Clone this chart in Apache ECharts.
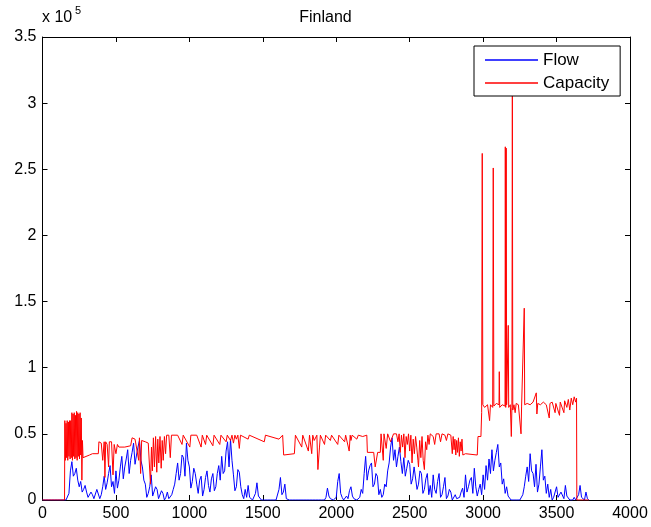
<!DOCTYPE html>
<html>
<head>
<meta charset="utf-8">
<script src="https://cdn.jsdelivr.net/npm/echarts@6/dist/echarts.min.js"></script>
<style>
  html, body { margin: 0; padding: 0; background: #fff; }
  #chart { width: 651px; height: 527px; }
</style>
</head>
<body>
<div id="chart"></div>
<script>
// values in units of 1e5
const xTicks = [0, 500, 1000, 1500, 2000, 2500, 3000, 3500, 4000]
const yTicks = [0, 0.5, 1, 1.5, 2, 2.5, 3, 3.5]

// flow, one value every 10 time steps starting at 0 (20 values per row)
const flowStep = 10
const flow = [
  0, 0, 0, 0, 0, 0, 0, 0, 0, 0, 0, 0, 0, 0, 0, 0, 0, 0, 0.05, 0.22,
  0.29, 0.18, 0.2, 0.24, 0.15, 0.1, 0.14, 0.06, 0.08, 0.11, 0.06, 0.02, 0.03, 0.06, 0.04, 0.01, 0.02, 0.08, 0.07, 0.01,
  0.04, 0.1, 0.18, 0.08, 0.13, 0.2, 0.26, 0.1, 0.14, 0.05, 0.22, 0.09, 0.15, 0.25, 0.33, 0.16, 0.25, 0.31, 0.38, 0.2,
  0.3, 0.36, 0.43, 0.27, 0.34, 0.4, 0.45, 0.3, 0.25, 0.15, 0.12, 0.02, 0.05, 0.1, 0.19, 0.03, 0.04, 0.1, 0.08, 0.01,
  0.02, 0.07, 0.05, 0, 0.02, 0.06, 0.01, 0.02, 0.04, 0.08, 0.12, 0.2, 0.28, 0.15, 0.2, 0.34, 0.32, 0.18, 0.43, 0.3,
  0.25, 0.09, 0.14, 0.24, 0.2, 0.12, 0.05, 0.15, 0.18, 0.03, 0.08, 0.17, 0.22, 0.11, 0.06, 0.16, 0.2, 0.07, 0.1, 0.2,
  0.26, 0.15, 0.33, 0.2, 0.22, 0.37, 0.44, 0.25, 0.46, 0.3, 0.19, 0.07, 0.1, 0.23, 0.21, 0.1, 0.04, 0.01, 0.08, 0.02,
  0.11, 0.02, 0.03, 0, 0.01, 0.05, 0.13, 0.03, 0.02, 0, 0.01, 0, 0, 0, 0, 0, 0, 0, 0, 0,
  0.01, 0.08, 0.17, 0.04, 0.06, 0.12, 0.01, 0, 0, 0, 0, 0, 0, 0, 0, 0, 0, 0, 0, 0,
  0, 0, 0, 0, 0, 0, 0, 0, 0, 0, 0, 0, 0, 0.02, 0.09, 0.03, 0.01, 0, 0, 0,
  0.02, 0.14, 0.2, 0.05, 0.02, 0, 0, 0.03, 0.01, 0.07, 0.1, 0.03, 0.01, 0, 0, 0.01, 0.02, 0.08, 0.05, 0.2,
  0.33, 0.15, 0.22, 0.26, 0.28, 0.1, 0.12, 0.2, 0.18, 0.04, 0.08, 0.02, 0.04, 0.12, 0.1, 0.22, 0.28, 0.4, 0.47, 0.3,
  0.38, 0.25, 0.33, 0.4, 0.29, 0.2, 0.32, 0.18, 0.24, 0.3, 0.27, 0.12, 0.16, 0.25, 0.24, 0.08, 0.12, 0.22, 0.2, 0.05,
  0.08, 0.16, 0.2, 0.04, 0.11, 0.02, 0.19, 0.08, 0.05, 0.14, 0.2, 0.02, 0.04, 0.1, 0.17, 0.01, 0.03, 0.08, 0.06, 0,
  0.01, 0.04, 0.01, 0, 0.02, 0.06, 0.09, 0.02, 0.19, 0.06, 0.1, 0.15, 0.17, 0.05, 0.24, 0.1, 0.03, 0.08, 0.12, 0.04,
  0.19, 0.08, 0.26, 0.15, 0.31, 0.2, 0.38, 0.22, 0.3, 0.36, 0.42, 0.25, 0.28, 0.12, 0.16, 0.05, 0.1, 0.03, 0.02, 0,
  0, 0, 0, 0, 0, 0, 0.01, 0.04, 0.1, 0.18, 0.25, 0.14, 0.35, 0.22, 0.2, 0.1, 0.27, 0.06, 0.12, 0.25,
  0.38, 0.15, 0.18, 0.05, 0.12, 0.02, 0.08, 0, 0.02, 0.01, 0.1, 0.02, 0.01, 0.06, 0.05, 0.01, 0.11, 0.03, 0.02, 0,
  0.01, 0, 0.02, 0, 0, 0.04, 0.11, 0.02, 0.03, 0, 0.06, 0.01, 0
]

// capacity as [time, value] points
const capacity = [
  [0, 0], [150, 0], [152, 0.6], [156, 0.3], [160, 0.58], [164, 0.32], [168, 0.6], [172, 0.3],
  [176, 0.59], [180, 0.33], [184, 0.6], [188, 0.31], [192, 0.6], [196, 0.32], [200, 0.66],
  [204, 0.3], [208, 0.65], [212, 0.33], [216, 0.66], [220, 0.31], [224, 0.64], [228, 0.32],
  [232, 0.67], [236, 0.3], [240, 0.66], [244, 0.33], [248, 0.65], [252, 0.31], [256, 0.66],
  [260, 0.34], [264, 0.62], [268, 0.15], [272, 0.45], [276, 0.32], [280, 0.33], [320, 0.34],
  [340, 0.35], [380, 0.35], [384, 0.44], [400, 0.43], [410, 0.3], [420, 0.44], [425, 0.17],
  [430, 0.44], [440, 0.42], [450, 0.25], [455, 0.44], [470, 0.44], [480, 0.19], [488, 0.42],
  [500, 0.35], [510, 0.42], [520, 0.4], [560, 0.4], [600, 0.41], [610, 0.47], [630, 0.46],
  [640, 0.47], [655, 0.3], [660, 0.47], [668, 0.2], [675, 0.45], [700, 0.44], [720, 0.43],
  [735, 0.12], [742, 0.4], [748, 0.22], [755, 0.47], [762, 0.25], [770, 0.48], [778, 0.21],
  [785, 0.46], [792, 0.28], [800, 0.48], [808, 0.24], [815, 0.45], [822, 0.3], [830, 0.48],
  [838, 0.35], [845, 0.49], [860, 0.49], [870, 0.32], [878, 0.49], [920, 0.49], [950, 0.42],
  [958, 0.49], [1003, 0.4], [1010, 0.49], [1050, 0.49], [1080, 0.4], [1088, 0.49], [1110, 0.42],
  [1118, 0.49], [1160, 0.41], [1168, 0.49], [1207, 0.42], [1215, 0.49], [1250, 0.44],
  [1258, 0.49], [1280, 0.45], [1290, 0.49], [1300, 0.43], [1310, 0.49], [1320, 0.46],
  [1330, 0.49], [1340, 0.39], [1348, 0.49], [1400, 0.46], [1408, 0.49], [1510, 0.44],
  [1518, 0.49], [1610, 0.46], [1635, 0.49], [1642, 0.34], [1715, 0.35], [1722, 0.49],
  [1765, 0.4], [1772, 0.49], [1810, 0.37], [1818, 0.49], [1833, 0.35], [1840, 0.49],
  [1850, 0.45], [1868, 0.49], [1875, 0.23], [1880, 0.24], [1886, 0.4], [1892, 0.49],
  [1920, 0.42], [1928, 0.49], [1960, 0.45], [1968, 0.49], [2010, 0.42], [2018, 0.49],
  [2057, 0.44], [2064, 0.49], [2088, 0.37], [2095, 0.49], [2100, 0.45], [2108, 0.49],
  [2140, 0.46], [2150, 0.49], [2180, 0.48], [2208, 0.49], [2212, 0.36], [2255, 0.36],
  [2265, 0.25], [2275, 0.25], [2282, 0.36], [2300, 0.36], [2305, 0.5], [2320, 0.3],
  [2325, 0.5], [2340, 0.39], [2350, 0.5], [2370, 0.44], [2390, 0.5], [2410, 0.5],
  [2420, 0.44], [2428, 0.5], [2436, 0.36], [2444, 0.49], [2452, 0.4], [2460, 0.5],
  [2468, 0.32], [2476, 0.48], [2484, 0.42], [2492, 0.5], [2500, 0.37], [2508, 0.49],
  [2516, 0.28], [2524, 0.46], [2532, 0.35], [2540, 0.48], [2548, 0.4], [2556, 0.3],
  [2560, 0.25], [2568, 0.45], [2576, 0.32], [2584, 0.48], [2592, 0.3], [2600, 0.23],
  [2608, 0.44], [2616, 0.38], [2624, 0.49], [2632, 0.42], [2640, 0.5], [2660, 0.48],
  [2670, 0.42], [2680, 0.5], [2700, 0.5], [2710, 0.44], [2720, 0.5], [2740, 0.49],
  [2750, 0.45], [2760, 0.5], [2780, 0.49], [2790, 0.35], [2796, 0.48], [2802, 0.38],
  [2808, 0.46], [2814, 0.34], [2820, 0.45], [2826, 0.36], [2832, 0.47], [2838, 0.33],
  [2844, 0.44], [2850, 0.37], [2856, 0.46], [2862, 0.34], [2870, 0.34], [2880, 0.35],
  [2960, 0.34], [2965, 0.48], [2985, 0.48], [2990, 0.66], [2994, 2.62], [2998, 0.72],
  [3010, 0.7], [3030, 0.72], [3044, 0.6], [3050, 0.72], [3065, 0.7], [3069, 2.51],
  [3073, 0.71], [3090, 0.73], [3108, 0.72], [3110, 0.97], [3113, 0.7], [3130, 0.72],
  [3149, 0.71], [3151, 2.67], [3154, 0.7], [3157, 2.66], [3160, 0.72], [3171, 1.32],
  [3174, 0.7], [3185, 0.72], [3192, 0.48], [3196, 0.7], [3199, 3.1], [3202, 0.68],
  [3210, 0.72], [3218, 0.66], [3225, 0.73], [3240, 0.72], [3258, 0.5], [3262, 0.71],
  [3270, 0.72], [3280, 1.45], [3283, 0.72], [3300, 0.73], [3320, 0.72], [3340, 0.74],
  [3362, 0.81], [3366, 0.65], [3372, 0.73], [3390, 0.72], [3410, 0.74], [3430, 0.72],
  [3450, 0.62], [3455, 0.73], [3470, 0.74], [3490, 0.66], [3495, 0.73], [3520, 0.64],
  [3525, 0.74], [3550, 0.66], [3555, 0.75], [3570, 0.7], [3580, 0.76], [3590, 0.68],
  [3600, 0.77], [3610, 0.72], [3620, 0.78], [3630, 0.74], [3636, 0.77], [3638, 0],
  [3720, 0]
]

const font = 'Liberation Sans, Arial, Helvetica, sans-serif'
const chart = echarts.init(document.getElementById('chart'))

const boxAxis = {
  type: 'value',
  axisLine: { show: true, onZero: false, lineStyle: { color: '#000', width: 1 } },
  axisTick: { show: true, inside: true, length: 5, lineStyle: { color: '#000' } },
  splitLine: { show: false }
}

const option = {
  animation: false,
  backgroundColor: '#fff',
  title: {
    text: 'Finland',
    left: 'center',
    top: 5,
    textStyle: { fontFamily: font, fontSize: 16, fontWeight: 'normal', color: '#000' }
  },
  legend: {
    orient: 'vertical',
    left: 474,
    top: 46,
    padding: [4, 11, 3, 11],
    itemGap: 3,
    itemWidth: 53,
    itemHeight: 1.5,
    icon: 'rect',
    backgroundColor: '#fff',
    borderColor: '#000',
    borderWidth: 1,
    borderRadius: 0,
    textStyle: { fontFamily: font, fontSize: 17, color: '#000', lineHeight: 20 },
    data: ['Flow', 'Capacity']
  },
  grid: { left: 42.5, right: 21, top: 37, bottom: 27, containLabel: false },
  xAxis: [
    Object.assign({}, boxAxis, {
      position: 'bottom',
      min: xTicks[0],
      max: xTicks[xTicks.length - 1],
      interval: xTicks[1] - xTicks[0],
      axisLabel: { margin: 6, fontFamily: font, fontSize: 16, color: '#000', formatter: v => String(v) }
    }),
    Object.assign({}, boxAxis, {
      position: 'top',
      min: xTicks[0],
      max: xTicks[xTicks.length - 1],
      interval: xTicks[1] - xTicks[0],
      axisLabel: { show: false }
    })
  ],
  yAxis: [
    Object.assign({}, boxAxis, {
      position: 'left',
      min: yTicks[0],
      max: yTicks[yTicks.length - 1],
      interval: yTicks[1] - yTicks[0],
      axisLabel: { margin: 6, fontFamily: font, fontSize: 16, color: '#000', formatter: v => String(v) }
    }),
    Object.assign({}, boxAxis, {
      position: 'right',
      min: yTicks[0],
      max: yTicks[yTicks.length - 1],
      interval: yTicks[1] - yTicks[0],
      axisLabel: { show: false }
    })
  ],
  graphic: [
    {
      type: 'text',
      left: 42,
      top: 10,
      style: { text: 'x 10', fontFamily: font, fontSize: 16, fill: '#000' }
    },
    {
      type: 'text',
      left: 75,
      top: 5,
      style: { text: '5', fontFamily: font, fontSize: 11, fill: '#000' }
    }
  ],
  series: [
    {
      name: 'Flow',
      type: 'line',
      symbol: 'none',
      xAxisIndex: 0,
      yAxisIndex: 0,
      lineStyle: { color: '#0000ff', width: 1 },
      itemStyle: { color: '#0000ff' },
      data: flow.map((v, i) => [i * flowStep, v])
    },
    {
      name: 'Capacity',
      type: 'line',
      symbol: 'none',
      xAxisIndex: 0,
      yAxisIndex: 0,
      lineStyle: { color: '#ff0000', width: 1 },
      itemStyle: { color: '#ff0000' },
      data: capacity
    }
  ]
}

chart.setOption(option)
</script>
</body>
</html>
